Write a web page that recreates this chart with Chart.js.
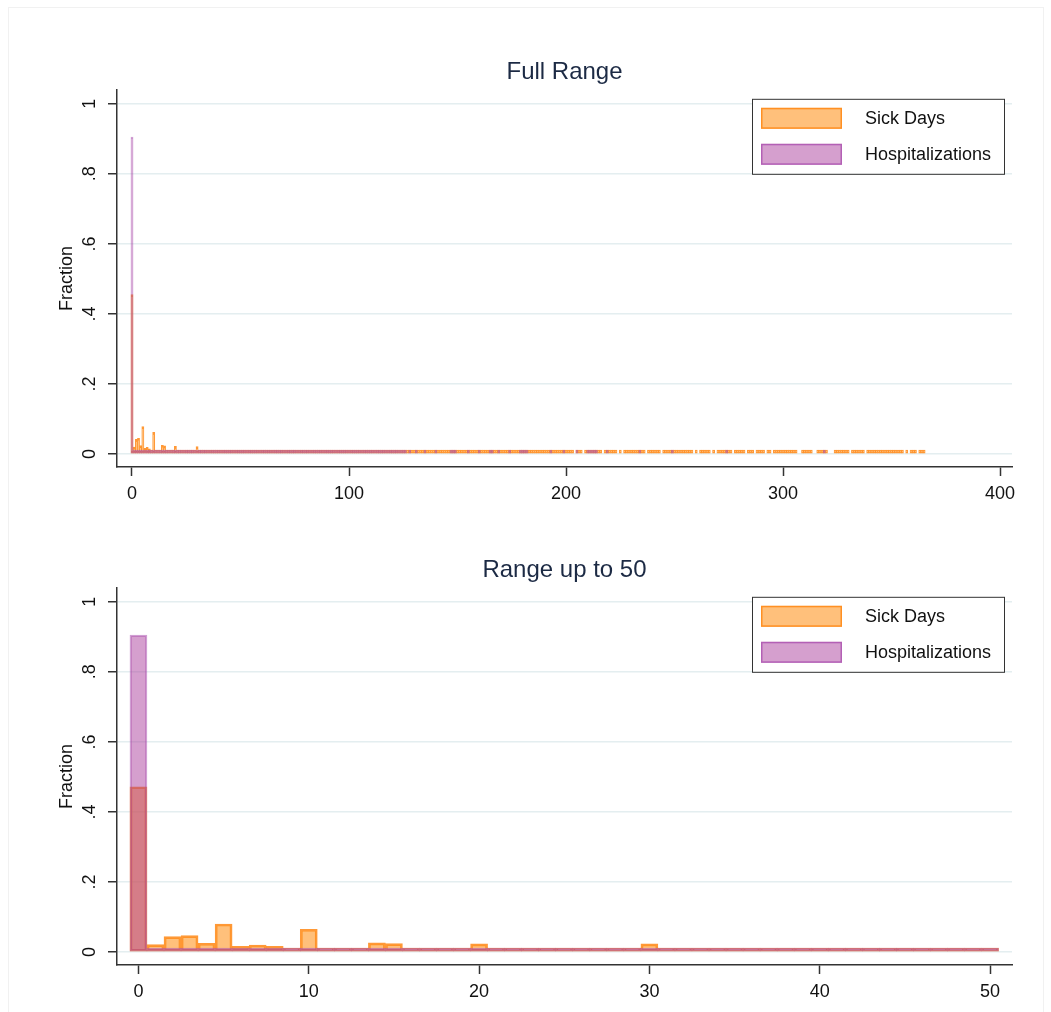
<!DOCTYPE html>
<html>
<head>
<meta charset="utf-8">
<script src="https://cdn.jsdelivr.net/npm/chart.js@4.4.0/dist/chart.umd.min.js"></script>
<style>
  body { margin: 0; background: #fff; width: 1051px; height: 1012px; position: relative; overflow: hidden; }
  .frame { position: absolute; left: 8px; top: 7px; width: 1034px; height: 1010px; border: 1px solid #f1f1f1; }
  canvas { position: absolute; left: 0; }
  #top { top: 4px; }
  #bottom { top: 502px; }
</style>
</head>
<body>
<div class="frame"></div>
<canvas id="top" width="1051" height="498"></canvas>
<canvas id="bottom" width="1051" height="498"></canvas>
<script>
// fraction per day, full range (day 0..365), null = no observations
const sickFull = [
  0.455, 0.020, 0.042, 0.045, 0.024, 0.078, 0.016, 0.019, 0.015, 0.002,
  0.062, 0.002, 0.009, 0.002, 0.025, 0.023, 0.003, 0.002, 0.002, 0.001,
  0.022, 0.007, 0.002, 0.002, 0.002, 0.006, 0.002, 0.001, 0.001, 0.001,
  0.021, 0.001, 0.001, 0.001, 0.001, 0.003, 0.001, 0.001, 0.001, 0.001,
  0.006, 0.001, 0.001, 0.001, 0.001, 0.002, 0.001, 0.001, 0.001, 0.001,
  0.002, 0.001, 0.001, 0.001, 0.001, 0.001, 0.001, 0.001, 0.001, 0.001,
  0.002, 0.001, 0.001, 0.001, 0.001, 0.001, 0.001, 0.001, 0.001, 0.001,
  0.001, 0.001, 0.001, 0.001, 0.001, 0.001, 0.001, 0.001, 0.001, 0.001,
  0.001, 0.001, 0.001, 0.001, 0.001, 0.001, 0.001, 0.001, 0.001, 0.001,
  0.002, 0.001, 0.001, 0.001, 0.001, 0.001, 0.001, 0.001, 0.001, 0.001,
  0.001, 0.001, 0.001, 0.001, 0.001, 0.001, 0.001, 0.001, 0.001, 0.001,
  0.001, 0.001, 0.001, 0.001, 0.001, 0.001, 0.001, 0.001, 0.001, 0.001,
  0.002, 0.001, 0.001, 0.001, 0.001, 0.001, 0.001, 0.001, 0.001, 0.001,
  0.001, 0.001, 0.001, 0.001, 0.001, 0.001, 0.001, 0.001, 0.001, 0.001,
  0.001, 0.001, 0.001, 0.001, 0.001, 0.001, 0.001, 0.001, 0.001, 0.001,
  0.001, 0.001, 0.001, 0.001, 0.001, 0.001, 0.001, 0.001, 0.001, 0.001,
  0.001, 0.001, 0.001, 0.001, 0.001, 0.001, 0.001, 0.001, 0.001, 0.001,
  0.001, 0.001, 0.001, 0.001, 0.001, 0.001, 0.001, 0.001, 0.001, 0.001,
  0.002, 0.001, 0.001, 0.001, 0.001, 0.001, 0.001, 0.001, 0.001, 0.001,
  0.001, 0.001, 0.001, 0.001, 0.001, 0.001, 0.001, 0.001, 0.001, 0.001,
  0.001, 0.001, 0.001, 0.001, null,  0.001, 0.001, 0.001, null,  0.001,
  0.001, 0.001, 0.001, 0.001, 0.001, 0.001, 0.001, null,  0.001, 0.001,
  0.001, 0.001, 0.001, 0.001, null,  0.001, null,  0.001, 0.001, 0.001,
  0.001, 0.001, 0.001, 0.001, 0.001, 0.001, 0.001, null,  0.001, 0.001,
  0.001, 0.001, 0.001, 0.001, null,  0.001, 0.001, 0.001, 0.001, 0.001,
  0.001, 0.001, 0.001, 0.001, 0.001, 0.001, 0.001, 0.001, 0.001, null,
  0.001, null,  0.001, 0.001, 0.001, 0.001, 0.001, null,  0.001, null,
  0.001, 0.001, 0.001, 0.001, 0.001, 0.001, 0.001, null,  0.001, 0.001,
  0.001, 0.001, 0.001, null,  0.001, 0.001, 0.001, null,  0.001, 0.001,
  0.001, 0.001, null,  0.001, 0.001, null,  0.001, 0.001, 0.001, 0.001,
  0.001, 0.001, 0.001, 0.001, 0.001, 0.001, 0.001, null,  null,  0.001,
  0.001, 0.001, 0.001, 0.001, null,  null,  0.001, 0.001, 0.001, 0.001,
  0.001, null,  null,  null,  0.001, 0.001, 0.001, 0.001, 0.001, 0.001,
  0.001, null,  0.001, 0.001, 0.001, 0.001, 0.001, 0.001, null,  0.001,
  0.001, 0.001, 0.001, 0.001, 0.001, 0.001, 0.001, 0.001, 0.001, 0.001,
  0.001, 0.001, 0.001, 0.001, 0.001, 0.001, null,  0.001, null,  0.001,
  0.001, 0.001, null,  0.001, 0.001, 0.001
];
const hospFull = [
  0.905, 0.008, 0.006, 0.010, 0.007, 0.009, 0.004, 0.004, 0.003, 0.002,
  0.004, 0.002, 0.002, 0.002, 0.003, 0.003, 0.002, 0.001, 0.001, 0.001,
  0.003, 0.001, 0.001, 0.001, 0.001, 0.001, 0.001, 0.001, 0.001, 0.001,
  0.001, 0.001, 0.001, 0.001, 0.001, 0.001, 0.001, 0.001, 0.001, 0.001,
  0.001, 0.001, 0.001, 0.001, 0.001, 0.001, 0.001, 0.001, 0.001, 0.001,
  0.001, 0.001, 0.001, 0.001, 0.001, 0.001, 0.001, 0.001, 0.001, 0.001,
  0.001, 0.001, 0.001, 0.001, 0.001, 0.001, 0.001, 0.001, 0.001, 0.001,
  0.001, 0.001, 0.001, 0.001, 0.001, 0.001, 0.001, 0.001, 0.001, 0.001,
  0.001, 0.001, 0.001, 0.001, 0.001, 0.001, 0.001, 0.001, 0.001, 0.001,
  0.001, 0.001, 0.001, 0.001, 0.001, 0.001, 0.001, 0.001, 0.001, 0.001,
  0.001, 0.001, 0.001, 0.001, 0.001, 0.001, 0.001, 0.001, 0.001, 0.001,
  0.001, 0.001, 0.001, 0.001, 0.001, 0.001, 0.001, 0.001, 0.001, 0.001,
  0.001, 0.001, 0.001, 0.001, 0.001, 0.001, 0.001, null,  0.001, null,
  null,  0.001, null,  null,  null,  0.001, null,  null,  null,  null,
  0.001, null,  null,  null,  null,  null,  null,  0.001, 0.001, 0.001,
  null,  null,  null,  null,  null,  0.001, null,  null,  null,  null,
  0.001, null,  null,  null,  null,  0.001, 0.001, null,  null,  0.001,
  null,  null,  null,  null,  0.001, null,  null,  null,  null,  0.001,
  0.001, 0.001, 0.001, null,  null,  null,  null,  null,  null,  null,
  null,  null,  null,  0.001, null,  null,  null,  null,  null,  0.001,
  null,  null,  null,  null,  null,  0.001, null,  null,  null,  null,
  0.001, 0.001, 0.001, 0.001, 0.001, null,  null,  null,  null,  0.001,
  null,  null,  null,  null,  null,  null,  null,  null,  null,  null,
  null,  null,  null,  null,  0.001, null,  null,  null,  null,  null,
  null,  null,  null,  null,  null,  null,  null,  null,  null,  0.001,
  null,  null,  null,  null,  null,  null,  null,  null,  null,  null,
  null,  null,  null,  null,  null,  null,  null,  null,  null,  null,
  null,  null,  null,  null,  0.001, null,  null,  null,  null,  null,
  null,  null,  null,  null,  null,  null,  null,  null,  null,  null,
  null,  null,  null,  null,  null,  null,  null,  null,  null,  null,
  null,  null,  null,  null,  null,  null,  null,  null,  null,  null,
  null,  null,  null,  null,  null,  null,  null,  null,  null,  0.001,
  null,  null,  null,  null,  null,  null,  null,  null,  null,  null,
  null,  null,  null,  null,  null,  null,  null,  null,  null,  null,
  null,  null,  null,  null,  null,  null,  null,  null,  null,  null,
  null,  null,  null,  null,  null,  null,  null,  null,  null,  null,
  null,  null,  null,  null,  null,  null
];

// fraction per day, restricted to days 0..50
const sick50 = [
  0.472, 0.021, 0.044, 0.047, 0.025, 0.080, 0.016, 0.020, 0.016, 0.002,
  0.065, 0.002, 0.009, 0.002, 0.026, 0.024, 0.003, 0.002, 0.002, 0.001,
  0.023, 0.007, 0.002, 0.002, 0.002, 0.005, 0.002, 0.001, 0.002, 0.001,
  0.023, 0.001, 0.001, 0.001, 0.001, 0.003, 0.001, 0.001, 0.001, 0.001,
  0.007, 0.001, 0.002, 0.001, 0.001, 0.002, 0.001, 0.001, 0.001, 0.001,
  0.002
];
const hosp50 = [
  0.905, 0.008, 0.006, 0.011, 0.007, 0.010, 0.004, 0.004, 0.003, 0.002,
  0.004, 0.002, 0.002, 0.002, 0.003, 0.003, 0.002, 0.001, 0.001, 0.001,
  0.003, 0.001, 0.001, 0.001, 0.001, 0.001, 0.001, 0.001, 0.001, 0.001,
  0.001, 0.001, 0.001, 0.001, 0.001, 0.001, 0.001, 0.001, 0.001, 0.001,
  0.001, 0.001, 0.001, 0.001, 0.001, 0.001, 0.001, 0.001, 0.001, 0.001,
  0.001
];

const yTicks = [0, 0.2, 0.4, 0.6, 0.8, 1];
const yTickLabels = ['0', '.2', '.4', '.6', '.8', '1'];
const xTicksFull = [0, 100, 200, 300, 400];
const xTicks50 = [0, 10, 20, 30, 40, 50];
const seriesNames = ['Sick Days', 'Hospitalizations'];

const FONT = '"Liberation Sans", Arial, sans-serif';
const ORANGE_FILL = 'rgba(255,140,15,0.55)';
const ORANGE_LINE = 'rgba(255,135,20,0.85)';
const PURPLE_FILL = 'rgba(165,50,150,0.47)';
const PURPLE_LINE = 'rgba(170,80,175,0.55)';

// rotated y tick labels, like the original
const yLabelPlugin = {
    id: 'yLabels',
    afterDraw(chart) {
        const ys = chart.scales.y;
        const ctx = chart.ctx;
        ctx.save();
        ctx.font = '18px ' + FONT;
        ctx.fillStyle = '#111';
        ctx.textAlign = 'center';
        ctx.textBaseline = 'middle';
        yTicks.forEach((v, i) => {
            ctx.save();
            ctx.translate(90, ys.getPixelForValue(v));
            ctx.rotate(-Math.PI / 2);
            ctx.fillText(yTickLabels[i], 0, 0);
            ctx.restore();
        });
        ctx.restore();
    }
};

// boxed legend inside the plot area
const boxLegendPlugin = {
    id: 'boxLegend',
    afterDraw(chart) {
        const ctx = chart.ctx;
        const bx = 752, by = chart.scales.y.getPixelForValue(1) - 5, bw = 252, bh = 75;
        ctx.save();
        ctx.fillStyle = '#fff';
        ctx.fillRect(bx, by, bw, bh);
        ctx.strokeStyle = '#333';
        ctx.lineWidth = 1;
        ctx.strokeRect(bx + 0.5, by + 0.5, bw, bh);
        const items = [
            { fill: ORANGE_FILL, line: ORANGE_LINE, dy: 9 },
            { fill: PURPLE_FILL, line: 'rgba(170,80,175,0.8)', dy: 45 }
        ];
        ctx.font = '18px ' + FONT;
        ctx.textBaseline = 'middle';
        items.forEach((it, i) => {
            ctx.fillStyle = it.fill;
            ctx.fillRect(761, by + it.dy, 81, 21);
            ctx.strokeStyle = it.line;
            ctx.lineWidth = 1.5;
            ctx.strokeRect(761.75, by + it.dy + 0.75, 79.5, 19.5);
            ctx.fillStyle = '#111';
            ctx.fillText(seriesNames[i], 865, by + it.dy + 11);
        });
        ctx.restore();
    }
};

function makeChart(id, title, sick, hosp, xMin, xMax, xTicks) {
    const ctx = document.getElementById(id).getContext('2d');
    new Chart(ctx, {
        type: 'bar',
        data: {
            datasets: [{
                label: seriesNames[1],
                data: hosp.map((v, i) => ({ x: i, y: v })),
                backgroundColor: PURPLE_FILL,
                borderColor: PURPLE_LINE,
                borderWidth: 1.5,
                borderSkipped: false,
                grouped: false,
                minBarLength: 4,
                barPercentage: 1,
                categoryPercentage: 1
            }, {
                label: seriesNames[0],
                data: sick.map((v, i) => ({ x: i, y: v })),
                backgroundColor: ORANGE_FILL,
                borderColor: ORANGE_LINE,
                borderWidth: 2,
                borderSkipped: false,
                grouped: false,
                minBarLength: 4,
                barPercentage: 1,
                categoryPercentage: 1
            }]
        },
        options: {
            responsive: false,
            animation: false,
            events: [],
            layout: { padding: { left: 0, right: 39, top: 0, bottom: 0 } },
            plugins: {
                legend: { display: false },
                tooltip: { enabled: false },
                title: {
                    display: true,
                    text: title,
                    fullSize: false,
                    color: '#1c2a44',
                    font: { family: FONT, size: 24, weight: 'normal' },
                    padding: { top: 54, bottom: 3 }
                }
            },
            scales: {
                x: {
                    type: 'linear',
                    offset: false,
                    min: xMin,
                    max: xMax,
                    afterBuildTicks: axis => { axis.ticks = xTicks.map(v => ({ value: v })); },
                    afterFit: s => { s.height = 35; },
                    grid: { offset: false, drawOnChartArea: false, tickLength: 9, tickColor: '#333', tickWidth: 1.5 },
                    border: { color: '#333', width: 1.5 },
                    ticks: { color: '#111', padding: 7, maxRotation: 0, font: { family: FONT, size: 18 } }
                },
                y: {
                    min: -0.0371,
                    max: 1.04,
                    afterBuildTicks: axis => { axis.ticks = yTicks.map(v => ({ value: v })); },
                    afterFit: s => { s.width = 117; },
                    grid: { color: '#e4eef0', lineWidth: 1.5, tickLength: 9, tickColor: '#333', tickWidth: 1.5 },
                    border: { color: '#333', width: 1.5 },
                    ticks: { display: false },
                    title: {
                        display: true,
                        text: 'Fraction',
                        color: '#111',
                        font: { family: FONT, size: 18 },
                        padding: { top: 56, bottom: 0 }
                    }
                }
            }
        },
        plugins: [yLabelPlugin, boxLegendPlugin]
    });
}

makeChart('top', 'Full Range', sickFull, hospFull, -6.91, 405.5, xTicksFull);
makeChart('bottom', 'Range up to 50', sick50, hosp50, -1.26, 51.29, xTicks50);
</script>
</body>
</html>
